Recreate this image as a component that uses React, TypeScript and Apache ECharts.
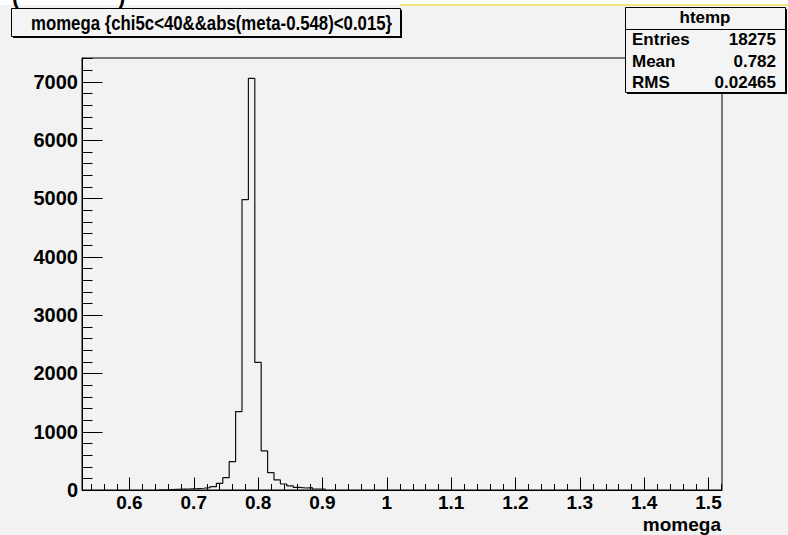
import React, { useEffect, useRef } from "react";
import * as echarts from "echarts";

// ---- data ----
const X_MIN = 0.5263;
const X_MAX = 1.521;
const N_BINS = 100;
const FIRST_BIN = 13;
const binCounts = [
  8, 12, 15, 18, 22, 30, 40, 57, 114, 212, 486, 1345, 4979, 7055, 2186, 670,
  297, 172, 103, 69, 46, 34, 40, 17, 17,
];
const Y_MAX = 7405;
const yTickStep = 1000;
const yMinorStep = 200;
const xMajorStep = 0.1;
const xMinorStep = 0.02;
const titleText = "momega {chi5c<40&&abs(meta-0.548)<0.015}";
const statsName = "htemp";
const statsLabels = ["Entries", "Mean", "RMS"];
const statsValues = ["18275", "0.782", "0.02465"];
const xAxisTitle = "momega";

const FONT = "'Liberation Sans', Arial, Helvetica, sans-serif";

const binEdge = (k: number) => X_MIN + (k * (X_MAX - X_MIN)) / N_BINS;

export default function App() {
  const ref = useRef<HTMLDivElement>(null);

  useEffect(() => {
    if (!ref.current) return;
    const chart = echarts.init(ref.current, undefined, { renderer: "svg" });

    const histPoints: [number, number][] = [];
    histPoints.push([binEdge(FIRST_BIN - 1), 0]);
    binCounts.forEach((c, i) => histPoints.push([binEdge(FIRST_BIN + i), c]));
    histPoints.push([binEdge(FIRST_BIN + binCounts.length), 0]);

    // tick marks (kind: 0 x-minor, 1 x-major, 2 y-minor, 3 y-major)
    const ticks: number[][] = [];
    const xStart = Math.ceil(X_MIN / xMinorStep);
    const xEnd = Math.floor(X_MAX / xMinorStep);
    const perMajor = Math.round(xMajorStep / xMinorStep);
    for (let i = xStart; i <= xEnd; i++) {
      ticks.push([i * xMinorStep, 0, i % perMajor === 0 ? 1 : 0]);
    }
    const yPer = Math.round(yTickStep / yMinorStep);
    for (let j = 0; j * yMinorStep <= Y_MAX; j++) {
      ticks.push([X_MIN, j * yMinorStep, j % yPer === 0 ? 3 : 2]);
    }

    const textStyleBold = {
      fontFamily: FONT,
      fontWeight: "bold" as const,
      fill: "#000",
    };

    chart.setOption({
      animation: false,
      backgroundColor: "#f2f2f2",
      grid: {
        left: 82,
        right: 66,
        top: 58,
        bottom: 45,
        show: true,
        borderColor: "#000",
        borderWidth: 1,
        backgroundColor: "transparent",
      },
      xAxis: {
        type: "value",
        min: X_MIN,
        max: X_MAX,
        splitNumber: 10,
        axisLine: { show: true, lineStyle: { color: "#000", width: 1 } },
        axisTick: { show: false },
        splitLine: { show: false },
        axisLabel: {
          interval: 0,
          margin: 3,
          fontSize: 19,
          fontWeight: "bold",
          fontFamily: FONT,
          color: "#000",
          formatter: (v: number) => {
            const r = Math.round(v / xMajorStep);
            if (Math.abs(v / xMajorStep - r) > 1e-6) return "";
            return String(Number((r * xMajorStep).toFixed(1)));
          },
        },
      },
      yAxis: {
        type: "value",
        min: 0,
        max: Y_MAX,
        interval: yTickStep,
        axisLine: { show: true, lineStyle: { color: "#000", width: 1 } },
        axisTick: { show: false },
        splitLine: { show: false },
        axisLabel: {
          margin: 4,
          fontSize: 20,
          fontWeight: "bold",
          fontFamily: FONT,
          color: "#000",
          formatter: (v: number) => (v % yTickStep === 0 ? String(v) : ""),
        },
      },
      series: [
        {
          type: "line",
          step: "end",
          data: histPoints,
          symbol: "none",
          lineStyle: { color: "#111", width: 1.2 },
          silent: true,
        },
        {
          type: "custom",
          data: ticks,
          silent: true,
          renderItem: (params: any, api: any) => {
            const kind = api.value(2);
            const p = api.coord([api.value(0), api.value(1)]);
            const x = Math.round(p[0]) + 0.5;
            const y = Math.round(p[1]) + 0.5;
            if (kind <= 1) {
              const len = kind === 1 ? 13 : 6.5;
              return {
                type: "line",
                shape: { x1: x, y1: y, x2: x, y2: y - len },
                style: { stroke: "#000", lineWidth: 1 },
              };
            }
            const len = kind === 3 ? 20 : 10;
            return {
              type: "line",
              shape: { x1: x, y1: y, x2: x + len, y2: y },
              style: { stroke: "#000", lineWidth: 1 },
            };
          },
        },
      ],
      graphic: [
        // white strip and yellow line at the very top
        { type: "rect", shape: { x: 0, y: 0, width: 788, height: 5 }, style: { fill: "#fff" }, silent: true },
        { type: "line", shape: { x1: 400, y1: 5, x2: 788, y2: 5 }, style: { stroke: "#ebe050", lineWidth: 1.5 }, silent: true },
        { type: "text", x: 12, y: -15, style: { text: "(", font: `bold 22px ${FONT}`, fill: "#000" }, silent: true },
        { type: "text", x: 118, y: -15, style: { text: ")", font: `bold 22px ${FONT}`, fill: "#000" }, silent: true },
        // title box
        { type: "rect", shape: { x: 13, y: 10, width: 389, height: 28 }, style: { fill: "#000" }, silent: true },
        { type: "rect", shape: { x: 11.5, y: 8.5, width: 389, height: 28 }, style: { fill: "#f4f4f4", stroke: "#000", lineWidth: 1 }, silent: true },
        {
          type: "text",
          x: 31,
          y: 23,
          scaleX: 0.84,
          style: { ...textStyleBold, text: titleText, fontSize: 20, verticalAlign: "middle", align: "left" },
          silent: true,
        },
        // stats box
        { type: "rect", shape: { x: 627, y: 9, width: 160, height: 85 }, style: { fill: "#000" }, silent: true },
        { type: "rect", shape: { x: 625.5, y: 7.5, width: 160, height: 85 }, style: { fill: "#f4f4f4", stroke: "#000", lineWidth: 1 }, silent: true },
        { type: "line", shape: { x1: 625.5, y1: 29.5, x2: 785.5, y2: 29.5 }, style: { stroke: "#000", lineWidth: 1 }, silent: true },
        {
          type: "text",
          x: 705,
          y: 17,
          style: { ...textStyleBold, text: statsName, fontSize: 17, align: "center", verticalAlign: "middle" },
          silent: true,
        },
        ...statsLabels.map((lab, i) => ({
          type: "text",
          x: 632,
          y: 39.5 + i * 21.5,
          style: { ...textStyleBold, text: lab, fontSize: 17, align: "left", verticalAlign: "middle" },
          silent: true,
        })),
        ...statsValues.map((val, i) => ({
          type: "text",
          x: 776,
          y: 39.5 + i * 21.5,
          style: { ...textStyleBold, text: val, fontSize: 17, align: "right", verticalAlign: "middle" },
          silent: true,
        })),
        // x-axis title
        {
          type: "text",
          x: 721,
          y: 524,
          style: { ...textStyleBold, text: xAxisTitle, fontSize: 19, align: "right", verticalAlign: "middle" },
          silent: true,
        },
      ],
    });

    return () => chart.dispose();
  }, []);

  return (
    <div
      ref={ref}
      style={{ position: "fixed", left: 0, top: 0, width: 788, height: 535, background: "#f2f2f2" }}
    />
  );
}
